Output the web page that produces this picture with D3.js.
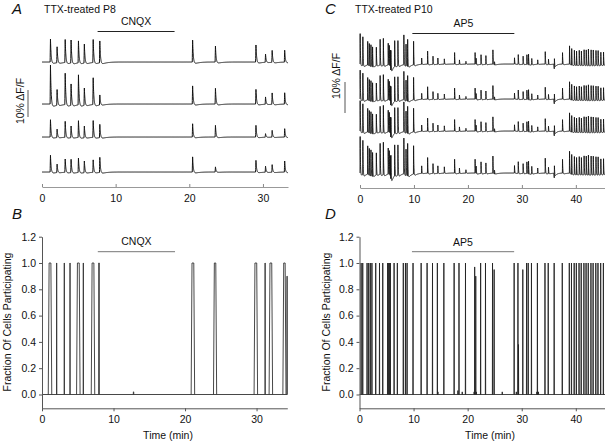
<!DOCTYPE html>
<html>
<head>
<meta charset="utf-8">
<script src="https://cdn.jsdelivr.net/npm/d3@7"></script>
<style>
  body { margin: 0; background: #fff; }
  svg { display: block; font-family: "Liberation Sans", Arial, Helvetica, sans-serif; }
</style>
</head>
<body>
<svg id="fig" width="605" height="441"></svg>
<script>
// ---- panel A: calcium events (min) and amplitude per cell (% dF/F)
const aTimes = [1.1, 2.0, 3.1, 3.9, 4.9, 5.7, 6.9, 7.8, 20.4, 23.5, 29.0, 30.3, 31.2, 32.9];
const aAmps = [
  [8.5, 5.9, 8.5, 8.5, 8.1, 7.0, 8.5, 8.1, 8.1, 5.9, 6.3, 3.0, 4.4, 4.4],
  [14.4, 5.8, 11.6, 7.9, 11.1, 6.4, 9.9, 3.7, 6.7, 5.8, 5.4, 2.7, 4.2, 4.2],
  [6.4, 3.1, 5.9, 4.3, 6.2, 4.3, 6.2, 4.9, 4.9, 4.3, 4.3, 1.3, 2.5, 3.1],
  [6.2, 3.1, 4.9, 4.9, 5.3, 4.3, 4.6, 5.6, 5.6, 1.9, 4.3, 2.2, 2.8, 4.1]
];
const aDrug = [7.55, 18.0];

// ---- panel B: fraction of cells participating
const bTimes = [1.12, 2.05, 3.12, 3.92, 5.08, 5.78, 7.13, 7.97, 12.8, 21.1, 24.2, 29.9, 31.2, 32.0, 33.9, 34.27];
const bWidths = [0.25, 0.02, 0.02, 0.02, 0.25, 0.02, 0.25, 0.08, 0.05, 0.25, 0.2, 0.25, 0.02, 0.25, 0.2, 0.02];
const bHeights = [1, 1, 1, 1, 1, 1, 1, 1, 0.02, 1, 1, 1, 1, 1, 1, 0.9];
const bDrug = [7.8, 18.6];

// ---- panel C: events (min), base amplitude (% dF/F), gain per cell
const cTimes = [0.0, 0.5, 1.4, 1.7, 2.0, 2.3, 3.0, 3.7, 4.3, 5.2, 5.4, 5.6, 5.7, 6.4, 7.0, 8.1, 8.5, 8.8, 9.9, 11.4,
  12.5, 13.5, 14.4, 15.6, 17.5, 18.4, 19.6, 21.3, 21.5, 22.4, 23.3, 24.6, 24.9, 28.6, 29.3, 30.2, 30.9, 31.2, 31.8, 32.9,
  34.3, 34.9, 36.0, 37.5, 38.8, 39.2, 39.7, 40.1, 40.6, 41.0, 41.5, 41.9, 42.3, 42.8, 43.2, 43.7, 44.1, 44.6, 45.1];
const cAmps = [9.8, 9.2, 7.6, 7.2, 7.0, 6.4, 5.9, 8.3, 8.7, 7.0, 6.5, 6.0, 6.8, 8.3, 8.1, 9.6, 7.0, 8.7, 7.6, 2.0,
  4.2, 2.6, 2.0, 1.7, 3.7, 1.4, 0.9, 3.7, 2.0, 3.1, 2.8, 4.6, 1.0, 2.0, 3.1, 2.6, 3.1, 3.4, 2.0, 1.4,
  4.0, 1.7, 3.1, 3.7, 5.9, 5.3, 4.8, 4.6, 4.8, 4.6, 5.0, 5.0, 5.3, 5.0, 5.0, 4.8, 4.8, 4.2, 4.2];
const cGains = [1.0, 0.95, 1.0, 1.2];
const cDipTimes = [5.6, 35.9];
const cDipAmps = [-2.5, -1.5];
const cDrug = [9.7, 28.6];

// ---- panel D: fraction of cells participating
const dTimes = [0.3, 0.6, 1.4, 1.7, 2.0, 2.3, 3.0, 3.7, 4.3, 5.2, 5.4, 5.6, 5.7, 6.4, 7.0, 8.1, 8.5, 8.8, 9.9, 11.4,
  12.5, 13.5, 14.4, 14.5, 15.6, 17.5, 18.2, 18.4, 19.0, 19.6, 21.2, 21.3, 21.5, 21.6, 22.4, 23.3, 24.6, 24.9, 26.4, 28.6,
  29.0, 29.3, 29.4, 30.2, 30.9, 31.2, 31.8, 32.8, 32.9, 33.1, 34.3, 34.9, 36.0, 37.5, 38.8, 39.2, 39.7, 40.1, 40.6, 41.0,
  41.5, 41.9, 42.3, 42.8, 43.2, 43.7, 44.1, 44.6, 45.1];
const dHeights = [1, 1, 1, 1, 1, 1, 1, 1, 1, 1, 1, 1, 1, 1, 1, 1, 1, 1, 1, 1,
  1, 1, 1, 0.02, 1, 1, 0.03, 1, 0.02, 1, 0.02, 0.97, 0.9, 0.02, 1, 1, 1, 0.95, 0.02, 1,
  0.02, 1, 0.38, 0.95, 1, 1, 1, 0.02, 1, 0.02, 1, 1, 1, 1, 1, 1, 1, 1, 1, 1,
  1, 1, 1, 1, 1, 1, 1, 1, 1];
const dDrug = [9.7, 28.6];

const fracTicks = [0, 0.2, 0.4, 0.6, 0.8, 1.0, 1.2];

var svg = d3.select('#fig');

// fast rise, exponential decay, small undershoot
function kernel(dt, rise, tau, under) {
  if (dt <= 0) return 0;
  if (dt < rise) return dt / rise;
  const d = dt - rise;
  return Math.exp(-d / tau) - under * (1 - Math.exp(-d / 0.08)) * Math.exp(-d / 0.6);
}

function buildTrace(times, amps, gain, dipT, dipA, tEnd, k) {
  const pts = [];
  for (let i = 0; i * k.step <= tEnd; i++) {
    const t = i * k.step;
    let v = 0;
    times.forEach((te, j) => { v += gain * amps[j] * kernel(t - te, k.rise, k.tau, k.under); });
    dipT.forEach((te, j) => { v += dipA[j] * kernel(t - te, 0.1, 0.25, 0); });
    pts.push([t, v]);
  }
  return pts;
}

function text(x, y, s, size, opts) {
  opts = opts || {};
  return svg.append('text')
    .attr('x', x).attr('y', y)
    .attr('font-size', size)
    .attr('fill', opts.fill || '#111')
    .attr('text-anchor', opts.anchor || 'start')
    .attr('font-style', opts.italic ? 'italic' : null)
    .text(s);
}

function drugBar(x, y, range, label, color, labelY) {
  svg.append('line')
    .attr('x1', x(range[0])).attr('x2', x(range[1]))
    .attr('y1', y).attr('y2', y)
    .attr('stroke', color).attr('stroke-width', 1);
  text((x(range[0]) + x(range[1])) / 2, labelY, label, 10.5, { anchor: 'middle' });
}

function scaleBar(tx, barX, yTop, pxPer10, labelY) {
  svg.append('line')
    .attr('x1', barX).attr('x2', barX)
    .attr('y1', yTop).attr('y2', yTop + pxPer10)
    .attr('stroke', '#555').attr('stroke-width', 1);
  svg.append('text')
    .attr('transform', `translate(${tx},${labelY}) rotate(-90)`)
    .attr('text-anchor', 'middle')
    .attr('font-size', 10.5)
    .attr('fill', '#111')
    .text('10%  \u0394F/F');
}

function traceAxis(x, y, ticks) {
  const g = svg.append('g')
    .attr('transform', `translate(0,${y})`)
    .call(d3.axisBottom(x).tickValues(ticks).tickSizeInner(-3).tickSizeOuter(0).tickPadding(8));
  g.select('.domain').attr('stroke', '#999');
  g.selectAll('.tick line').attr('stroke', '#888');
  g.selectAll('.tick text').attr('font-size', 10.5).attr('fill', '#111').attr('font-family', null);
}

function fracAxes(x, y, xTicks, yZero) {
  const gy = svg.append('g')
    .attr('transform', `translate(${x.range()[0]},0)`)
    .call(d3.axisLeft(y).tickValues(fracTicks).tickFormat(d3.format('.1f')).tickSize(3).tickSizeOuter(0).tickPadding(3));
  const gx = svg.append('g')
    .attr('transform', `translate(0,${yZero})`)
    .call(d3.axisBottom(x).tickValues(xTicks).tickSize(3).tickSizeOuter(0).tickPadding(4));
  [gx, gy].forEach(g => {
    g.select('.domain').attr('stroke', '#555');
    g.selectAll('.tick line').attr('stroke', '#555');
    g.selectAll('.tick text').attr('font-size', 10.5).attr('fill', '#111').attr('font-family', null);
  });
}

// =================== Panel A ===================
var xA = d3.scaleLinear().domain([0, 33.4]).range([42, 288]);
var aBase = [62, 104, 137, 172];
var aPx10 = 27;
var kA = { step: 0.01, rise: 0.05, tau: 0.1, under: 0.14 };

aAmps.forEach((amps, i) => {
  const y = d3.scaleLinear().domain([0, 10]).range([aBase[i], aBase[i] - aPx10]);
  const pts = buildTrace(aTimes, amps, 1, [], [], 33.4, kA);
  svg.append('path')
    .attr('d', d3.line().x(d => xA(d[0])).y(d => y(d[1]))(pts))
    .attr('fill', 'none').attr('stroke', '#111').attr('stroke-width', 1);
});
traceAxis(xA, 187, [0, 10, 20, 30]);
drugBar(xA, 31.5, aDrug, 'CNQX', '#222', 25);
scaleBar(24, 28, 90, aPx10, 101);
text(12, 14, 'A', 15, { italic: true });
text(44, 13, 'TTX-treated P8', 10.5);

// =================== Panel C ===================
var xC = d3.scaleLinear().domain([0, 45.4]).range([360, 605]);
var cBase = [64, 99, 131, 173];
var cPx10 = 31;
var kC = { step: 0.01, rise: 0.03, tau: 0.055, under: 0.1 };

cGains.forEach((gain, i) => {
  const y = d3.scaleLinear().domain([0, 10]).range([cBase[i], cBase[i] - cPx10]);
  const pts = buildTrace(cTimes, cAmps, gain, cDipTimes, cDipAmps, 45.4, kC);
  svg.append('path')
    .attr('d', d3.line().x(d => xC(d[0])).y(d => y(d[1]))(pts))
    .attr('fill', 'none').attr('stroke', '#111').attr('stroke-width', 0.9);
});
traceAxis(xC, 188, [0, 10, 20, 30, 40]);
drugBar(xC, 33.5, cDrug, 'AP5', '#222', 27);
scaleBar(340, 345, 82, cPx10, 76);
text(325, 14, 'C', 15, { italic: true });
text(355, 13, 'TTX-treated P10', 10.5);

// =================== Panel B ===================
var xB = d3.scaleLinear().domain([0, 34.3]).range([42, 287.3]);
var yB = d3.scaleLinear().domain([0, 1.2]).range([394.5, 236.7]);
var ramp = 0.12;

svg.append('line')
  .attr('x1', xB(0)).attr('x2', xB(34.3))
  .attr('y1', yB(0)).attr('y2', yB(0))
  .attr('stroke', '#333').attr('stroke-width', 0.9);
bTimes.forEach((t, i) => {
  const w = bWidths[i] / 2, h = bHeights[i];
  const r = bWidths[i] > 0.1 ? ramp : 0.01;
  const pts = [[t - w - r, 0], [t - w, h], [t + w, h], [t + w + r, 0]];
  svg.append('path')
    .attr('d', d3.line().x(d => xB(d[0])).y(d => yB(d[1]))(pts))
    .attr('fill', 'none').attr('stroke', '#333').attr('stroke-width', 0.9);
});
fracAxes(xB, d3.scaleLinear().domain([-0.105, 1.2]).range([408.3, 236.7]), [0, 10, 20, 30], 408.3);
drugBar(xB, 251.7, bDrug, 'CNQX', '#777', 245);
text(12, 219, 'B', 15, { italic: true });
svg.append('text')
  .attr('transform', 'translate(11,322) rotate(-90)')
  .attr('text-anchor', 'middle').attr('font-size', 10.5).attr('fill', '#111')
  .text('Fraction Of Cells Participating');
text(168, 439, 'Time (min)', 10.5, { anchor: 'middle' });

// =================== Panel D ===================
var xD = d3.scaleLinear().domain([0, 45.4]).range([359.5, 605]);
var yD = d3.scaleLinear().domain([0, 1.2]).range([394.5, 236.7]);

svg.append('line')
  .attr('x1', xD(0)).attr('x2', xD(45.4))
  .attr('y1', yD(0)).attr('y2', yD(0))
  .attr('stroke', '#333').attr('stroke-width', 0.9);
dTimes.forEach((t, i) => {
  const h = dHeights[i];
  const pts = [[t - 0.03, 0], [t, h], [t + 0.03, 0]];
  svg.append('path')
    .attr('d', d3.line().x(d => xD(d[0])).y(d => yD(d[1]))(pts))
    .attr('fill', 'none').attr('stroke', '#222').attr('stroke-width', 0.9);
});
fracAxes(xD, d3.scaleLinear().domain([-0.105, 1.2]).range([408.3, 236.7]), [0, 10, 20, 30, 40], 408.3);
drugBar(xD, 251.7, dDrug, 'AP5', '#777', 246);
text(325, 219, 'D', 15, { italic: true });
svg.append('text')
  .attr('transform', 'translate(330,322) rotate(-90)')
  .attr('text-anchor', 'middle').attr('font-size', 10.5).attr('fill', '#111')
  .text('Fraction Of Cells Participating');
text(490, 439, 'Time (min)', 10.5, { anchor: 'middle' });
</script>
</body>
</html>
